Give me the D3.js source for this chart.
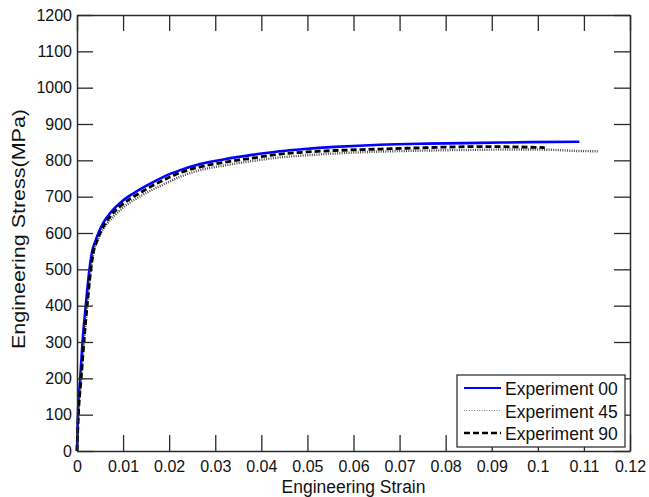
<!DOCTYPE html>
<html>
<head>
<meta charset="utf-8">
<script src="https://cdn.jsdelivr.net/npm/d3@7"></script>
<style>
  html, body { margin: 0; padding: 0; background: #fff; }
  svg { display: block; font-family: "Liberation Sans", Arial, sans-serif; }
</style>
</head>
<body>
<svg id="chart" width="649" height="497"></svg>
<script>
// Engineering stress-strain curves for three specimen orientations
const seriesNames = ["Experiment 00", "Experiment 45", "Experiment 90"];

const strain00 = [0, 0.0002, 0.0007, 0.0012, 0.0019, 0.0027, 0.0033, 0.0040, 0.0048, 0.0057, 0.0072, 0.0093, 0.0111, 0.0130, 0.0158, 0.0190, 0.0224, 0.0267, 0.032, 0.038, 0.044, 0.050, 0.056, 0.0658, 0.076, 0.0875, 0.098, 0.109];
const stress00 = [0, 100, 200, 300, 400, 500, 550, 578, 605, 628, 655, 682, 700, 715, 735, 756, 773, 790, 803, 815, 825, 832, 837, 843, 846, 848, 850, 851];

const strain45 = [0, 0.0003, 0.0009, 0.0015, 0.0022, 0.0030, 0.0036, 0.0044, 0.0053, 0.0063, 0.0079, 0.0100, 0.0120, 0.0140, 0.0168, 0.0200, 0.0224, 0.0267, 0.032, 0.038, 0.044, 0.050, 0.056, 0.0658, 0.076, 0.0875, 0.095, 0.103, 0.108, 0.113];
const stress45 = [0, 100, 200, 300, 400, 500, 550, 578, 604, 622, 645, 670, 688, 703, 722, 741, 755, 773, 786, 798, 808, 814, 819, 824, 827, 829, 830, 829, 826, 825];

const strain90 = [0, 0.0003, 0.0009, 0.0015, 0.0022, 0.0030, 0.0036, 0.0043, 0.0051, 0.0060, 0.0075, 0.0096, 0.0115, 0.0135, 0.0162, 0.0195, 0.0224, 0.0267, 0.032, 0.038, 0.044, 0.050, 0.056, 0.0658, 0.076, 0.0875, 0.095, 0.1015];
const stress90 = [0, 100, 200, 300, 400, 500, 550, 577, 602, 624, 650, 676, 694, 709, 729, 750, 766, 782, 795, 806, 817, 823, 827, 831, 835, 838, 837, 835];

const xTicks = [0, 0.01, 0.02, 0.03, 0.04, 0.05, 0.06, 0.07, 0.08, 0.09, 0.1, 0.11, 0.12];
const xTickLabels = ["0", "0.01", "0.02", "0.03", "0.04", "0.05", "0.06", "0.07", "0.08", "0.09", "0.1", "0.11", "0.12"];
const yTicks = [0, 100, 200, 300, 400, 500, 600, 700, 800, 900, 1000, 1100, 1200];
const yTickLabels = ["0", "100", "200", "300", "400", "500", "600", "700", "800", "900", "1000", "1100", "1200"];

const series = [
  { name: seriesNames[0], x: strain00, y: stress00, color: "#0000ff", width: 2.6, dash: null },
  { name: seriesNames[1], x: strain45, y: stress45, color: "#4a4a4a", width: 2.4, dash: "1,1.3" },
  { name: seriesNames[2], x: strain90, y: stress90, color: "#000000", width: 2.8, dash: "6,3" }
];

const svg = d3.select("#chart");
const plot = { left: 77, top: 15, right: 630, bottom: 451 };

const x = d3.scaleLinear().domain([0, 0.12]).range([plot.left, plot.right]);
const y = d3.scaleLinear().domain([0, 1200]).range([plot.bottom, plot.top]);

// curves
const line = d3.line()
  .x(d => x(d[0]))
  .y(d => y(d[1]))
  .curve(d3.curveMonotoneX);

const curves = svg.append("g");
series.forEach(s => {
  curves.append("path")
    .datum(s.x.map((v, i) => [v, s.y[i]]))
    .attr("fill", "none")
    .attr("stroke", s.color)
    .attr("stroke-width", s.width)
    .attr("stroke-dasharray", s.dash)
    .attr("d", line);
});

// box axes with inward ticks
const axisColor = "#2a2a2a";
const tickLen = 16;
function styleAxis(g) {
  g.selectAll("path.domain").attr("stroke", axisColor).attr("stroke-width", 1.5);
  g.selectAll(".tick line").attr("stroke", axisColor).attr("stroke-width", 1.3);
  g.selectAll(".tick text").attr("fill", "#111").style("font-size", "16px")
    .style("font-family", "'Liberation Sans', Arial, sans-serif");
}

svg.append("g")
  .attr("transform", `translate(0,${plot.bottom})`)
  .call(d3.axisBottom(x).tickValues(xTicks).tickFormat((d, i) => xTickLabels[i])
    .tickSizeInner(-tickLen).tickSizeOuter(0).tickPadding(10))
  .call(styleAxis);

svg.append("g")
  .attr("transform", `translate(0,${plot.top})`)
  .call(d3.axisTop(x).tickValues(xTicks).tickFormat("")
    .tickSizeInner(-tickLen).tickSizeOuter(0))
  .call(styleAxis);

svg.append("g")
  .attr("transform", `translate(${plot.left},0)`)
  .call(d3.axisLeft(y).tickValues(yTicks).tickFormat((d, i) => yTickLabels[i])
    .tickSizeInner(-tickLen).tickSizeOuter(0).tickPadding(5))
  .call(styleAxis);

svg.append("g")
  .attr("transform", `translate(${plot.right},0)`)
  .call(d3.axisRight(y).tickValues(yTicks).tickFormat("")
    .tickSizeInner(-tickLen).tickSizeOuter(0))
  .call(styleAxis);

// axis titles
svg.append("text")
  .attr("x", (plot.left + plot.right) / 2)
  .attr("y", 493)
  .attr("text-anchor", "middle")
  .style("font-size", "17.5px")
  .attr("fill", "#111")
  .text("Engineering Strain");

svg.append("text")
  .attr("transform", `translate(25,${(plot.top + plot.bottom) / 2 - 4}) rotate(-90)`)
  .attr("text-anchor", "middle")
  .attr("textLength", 240)
  .attr("lengthAdjust", "spacingAndGlyphs")
  .style("font-size", "17.5px")
  .attr("fill", "#111")
  .text("Engineering Stress(MPa)");

// legend
const legend = svg.append("g");
legend.append("rect")
  .attr("x", 457).attr("y", 375).attr("width", 168).attr("height", 72)
  .attr("fill", "#fff").attr("stroke", "#222").attr("stroke-width", 1.2);

const legendLine = [
  { width: 2.2, color: "#0000ff", dash: null },
  { width: 1.2, color: "#888888", dash: "1,1.5" },
  { width: 2.6, color: "#000000", dash: "6,3" }
];
series.forEach((s, i) => {
  const ly = 388 + i * 22.5;
  legend.append("line")
    .attr("x1", 464).attr("x2", 501).attr("y1", ly).attr("y2", ly)
    .attr("stroke", legendLine[i].color)
    .attr("stroke-width", legendLine[i].width)
    .attr("stroke-dasharray", legendLine[i].dash);
  legend.append("text")
    .attr("x", 505).attr("y", ly + 7)
    .style("font-size", "17.5px")
    .attr("fill", "#111")
    .text(s.name);
});
</script>
</body>
</html>
